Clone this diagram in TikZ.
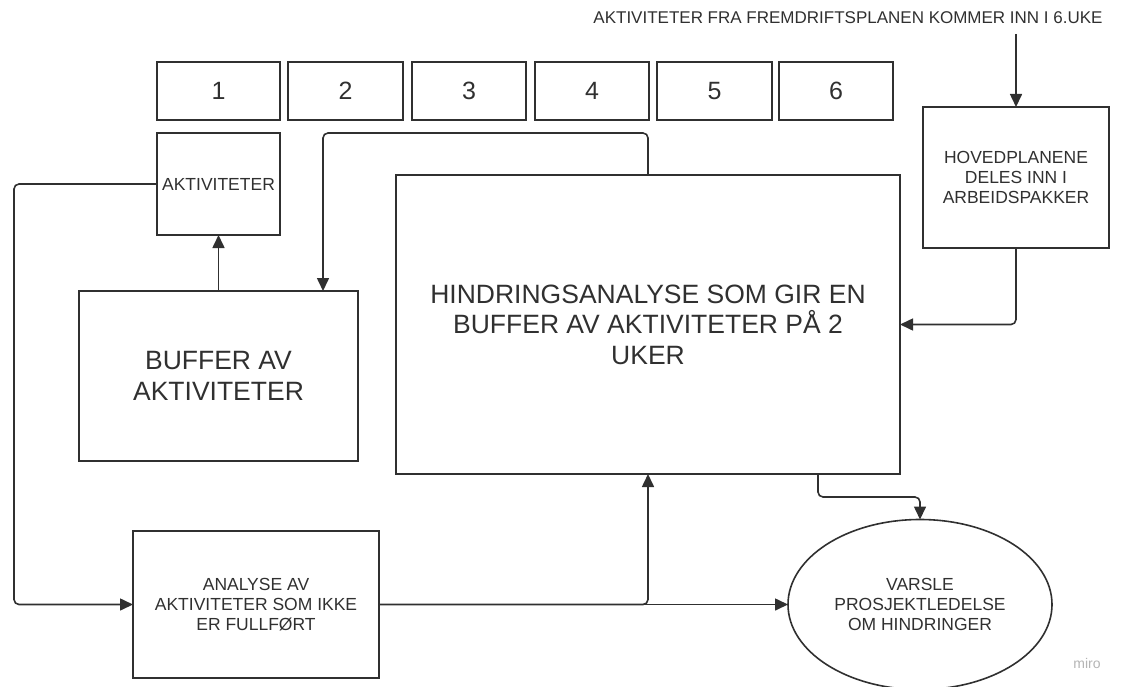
\documentclass[tikz,border=0pt]{standalone}
\usepackage{fontspec}
\setmainfont{Liberation Sans}
\usetikzlibrary{arrows.meta,shapes.geometric,calc}
\definecolor{ink}{HTML}{303030}
\definecolor{wm}{HTML}{B4B4B4}
\begin{document}
\begin{tikzpicture}[x=1pt,y=-1pt,
  every node/.style={text=ink},
  box/.style={draw=ink, line width=1.6pt, inner sep=0pt, outer sep=0pt, align=center},
  arr/.style={draw=ink, line width=1.6pt, -{Triangle[length=13pt,width=12pt]}, rounded corners=5pt},
  small/.style={font=\fontsize{17.5}{20}\selectfont},
  big/.style={font=\fontsize{26.5}{30.5}\selectfont},
  num/.style={font=\fontsize{25}{30}\selectfont}]
\useasboundingbox (0,0) rectangle (1131,687);

% top text
\node[font=\fontsize{17}{20}\selectfont] (toptxt) at (848,18) {AKTIVITETER FRA FREMDRIFTSPLANEN KOMMER INN I 6.UKE};
\coordinate (hs) at (1016,34);

% week boxes
\node[box,num,minimum width=123pt,minimum height=58pt] (w1) at (218.5,91) {1};
\node[box,num,minimum width=115pt,minimum height=58pt] (w2) at (345.5,91) {2};
\node[box,num,minimum width=114pt,minimum height=58pt] (w3) at (469,91) {3};
\node[box,num,minimum width=114pt,minimum height=58pt] (w4) at (592,91) {4};
\node[box,num,minimum width=115pt,minimum height=58pt] (w5) at (714.5,91) {5};
\node[box,num,minimum width=114pt,minimum height=58pt] (w6) at (836,91) {6};

% main boxes
\node[box,small,minimum width=123pt,minimum height=102pt] (akt) at (218.5,184) {AKTIVITETER};
\node[box,big,minimum width=279pt,minimum height=170pt] (buf) at (218.5,376) {BUFFER AV\\AKTIVITETER};
\node[box,big,minimum width=504pt,minimum height=299pt] (hind) at (648,324.5) {HINDRINGSANALYSE SOM GIR EN\\BUFFER AV AKTIVITETER PÅ 2\\UKER};
\node[box,small,minimum width=186pt,minimum height=141pt] (hoved) at (1016,177.5) {HOVEDPLANENE\\DELES INN I\\ARBEIDSPAKKER};
\node[box,small,minimum width=246pt,minimum height=147pt] (ana) at (256,604.5) {ANALYSE AV\\AKTIVITETER SOM IKKE\\ER FULLFØRT};
\node[box,small,ellipse,minimum width=264pt,minimum height=170pt] (ell) at (920,604.5) {VARSLE\\PROSJEKTLEDELSE\\OM HINDRINGER};

\node[text=wm,font=\fontsize{14}{14}\selectfont] (miro) at (1087,663) {miro};

% connectors
\draw[arr] (hs) -- (hoved.north);
\draw[arr] (hoved.south) |- (hind.east);

\coordinate (t1) at (648,133);
\coordinate (t2) at (323,133);
\draw[arr] (hind.north -| t1) -- (t1) -- (t2) -- (buf.north -| t2);

\draw[arr] (buf.north -| akt.south) -- (akt.south);

\coordinate (l1) at (14,184);
\coordinate (l2) at (14,604.5);
\draw[arr] (akt.west) -- (l1) -- (l2) -- (ana.west);

\draw[arr,rounded corners=0pt] (ana.east) -- (ell.west);
\coordinate (j) at (648,604.5);
\draw[arr] (ana.east) -- (j) -- (hind.south -| j);

\coordinate (d1) at (818,497);
\draw[arr] (hind.south -| d1) -- (d1) -- (d1 -| ell.north) -- (ell.north);
\end{tikzpicture}
\end{document}
